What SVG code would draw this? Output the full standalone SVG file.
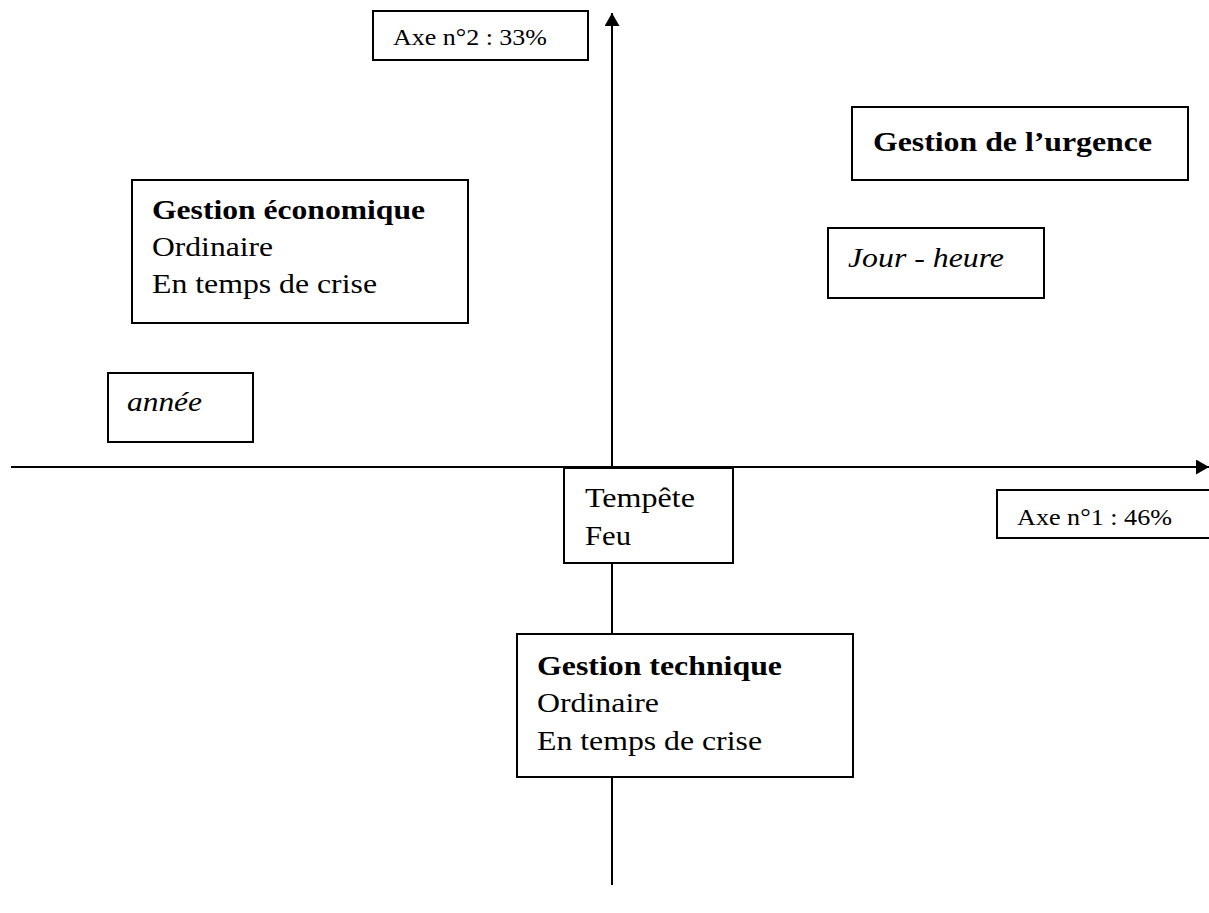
<svg xmlns="http://www.w3.org/2000/svg" width="1209" height="913" viewBox="0 0 1209 913">
  <style>
    .box { fill: #fff; stroke: #000; stroke-width: 2; }
    .t { font-family: "Liberation Serif", "Times New Roman", serif; fill: #000; font-size: 28px; }
    .sm { font-size: 22.5px; }
    .b { font-weight: bold; }
    .i { font-style: italic; }
    .axis { stroke: #000; stroke-width: 2; fill: none; }
  </style>
  <defs>
    <marker id="arrow" markerWidth="14" markerHeight="16" refX="13" refY="7.5" orient="auto" markerUnits="userSpaceOnUse" viewBox="0 0 14 16">
      <path d="M0,0 L13,7.5 L0,15 z" fill="#000"/>
    </marker>
  </defs>

  <!-- axes -->
  <g id="connectors">
    <line class="axis" x1="612" y1="885" x2="612" y2="13" marker-end="url(#arrow)"/>
    <line class="axis" x1="11" y1="467" x2="1209" y2="467" marker-end="url(#arrow)"/>
  </g>

  <g id="axe2">
    <rect class="box" x="373" y="11" width="215" height="49"/>
    <text class="t sm" x="393" y="45" textLength="154" lengthAdjust="spacingAndGlyphs">Axe n°2 : 33%</text>
  </g>

  <g id="urgence">
    <rect class="box" x="852" y="107" width="336" height="73"/>
    <text class="t b" x="873" y="151" textLength="279" lengthAdjust="spacingAndGlyphs">Gestion de l’urgence</text>
  </g>

  <g id="economique">
    <rect class="box" x="132" y="180" width="336" height="143"/>
    <text class="t b" x="152" y="219" textLength="273" lengthAdjust="spacingAndGlyphs">Gestion économique</text>
    <text class="t" x="152" y="256" textLength="121" lengthAdjust="spacingAndGlyphs">Ordinaire</text>
    <text class="t" x="152" y="293" textLength="225" lengthAdjust="spacingAndGlyphs">En temps de crise</text>
  </g>

  <g id="jour">
    <rect class="box" x="828" y="228" width="216" height="70"/>
    <text class="t i" x="848" y="267" textLength="156" lengthAdjust="spacingAndGlyphs">Jour - heure</text>
  </g>

  <g id="annee">
    <rect class="box" x="108" y="373" width="145" height="69"/>
    <text class="t i" x="127" y="411" textLength="75" lengthAdjust="spacingAndGlyphs">année</text>
  </g>

  <g id="tempete">
    <rect class="box" x="564" y="468" width="169" height="95"/>
    <text class="t" x="585" y="507" textLength="110" lengthAdjust="spacingAndGlyphs">Tempête</text>
    <text class="t" x="585" y="545" textLength="46" lengthAdjust="spacingAndGlyphs">Feu</text>
  </g>

  <g id="axe1">
    <rect class="box" x="997" y="490" width="220" height="48"/>
    <text class="t sm" x="1017" y="525" textLength="155" lengthAdjust="spacingAndGlyphs">Axe n°1 : 46%</text>
  </g>

  <g id="technique">
    <rect class="box" x="517" y="634" width="336" height="143"/>
    <text class="t b" x="537" y="675" textLength="245" lengthAdjust="spacingAndGlyphs">Gestion technique</text>
    <text class="t" x="537" y="712" textLength="122" lengthAdjust="spacingAndGlyphs">Ordinaire</text>
    <text class="t" x="537" y="750" textLength="225" lengthAdjust="spacingAndGlyphs">En temps de crise</text>
  </g>
</svg>
